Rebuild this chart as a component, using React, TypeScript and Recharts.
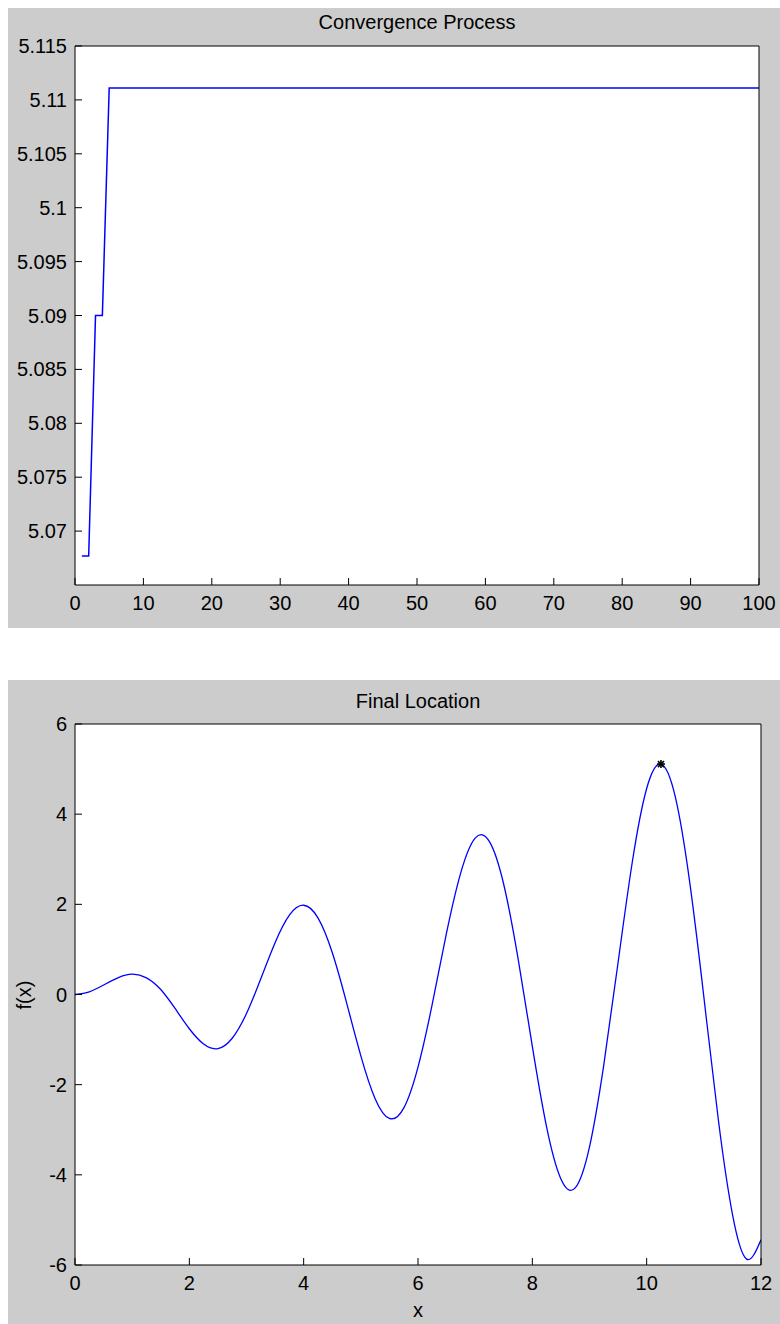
import {
  CartesianGrid,
  ComposedChart,
  Line,
  ReferenceDot,
  XAxis,
  YAxis,
} from "recharts";

// convergence: best value per iteration (only the points where it changes, plus the last one)
const iterations = [1, 2, 3, 4, 5, 100];
const bestValues = [5.0677, 5.0677, 5.09, 5.09, 5.1111, 5.1111];
const iterTicks = [0, 10, 20, 30, 40, 50, 60, 70, 80, 90, 100];
const valueTicks = [5.07, 5.075, 5.08, 5.085, 5.09, 5.095, 5.1, 5.105, 5.11, 5.115];

// final location: f(x) every 0.25
const xs = [
  0, 0.25, 0.5, 0.75, 1, 1.25, 1.5, 1.75, 2, 2.25, 2.5, 2.75, 3, 3.25, 3.5, 3.75, 4,
  4.25, 4.5, 4.75, 5, 5.25, 5.5, 5.75, 6, 6.25, 6.5, 6.75, 7, 7.25, 7.5, 7.75, 8,
  8.25, 8.5, 8.75, 9, 9.25, 9.5, 9.75, 10, 10.25, 10.5, 10.75, 11, 11.25, 11.5, 11.75, 12,
];
const fx = [
  0, 0.06, 0.21, 0.37, 0.45, 0.37, 0.11, -0.31, -0.76, -1.1, -1.2, -0.97, -0.42, 0.35, 1.15,
  1.76, 1.98, 1.7, 0.93, -0.18, -1.36, -2.31, -2.75, -2.52, -1.61, -0.21, 1.37, 2.71, 3.47,
  3.39, 2.44, 0.8, -1.15, -2.94, -4.09, -4.29, -3.38, -1.56, 0.71, 2.95, 4.57, 5.11, 4.39,
  2.52, -0.05, -2.74, -4.87, -5.87, -5.44,
];
const xTicks = [0, 2, 4, 6, 8, 10, 12];
const fxTicks = [-6, -4, -2, 0, 2, 4, 6];
const finalX = 10.25;
const finalY = 5.111;

const FONT = '"Liberation Sans", Arial, Helvetica, sans-serif';
const INK = "#000";
const GREY = "#cccccc";
const BLUE = "#0000ff";
const TICK = 7;

const convRows = iterations.map((iter, i) => ({ iter, value: bestValues[i] }));
const fxRows = xs.map((x, i) => ({ x, y: fx[i] }));

// labels outside, tick marks inside the box (matlab style)
function BottomTick(props: any) {
  const { x, y, payload } = props;
  return (
    <g>
      <line x1={x} y1={y} x2={x} y2={y - TICK} stroke={INK} />
      <text x={x} y={y + 25} textAnchor="middle" fontFamily={FONT} fontSize={20} fill={INK}>
        {String(payload.value)}
      </text>
    </g>
  );
}

function LeftTick(props: any) {
  const { x, y, payload } = props;
  return (
    <g>
      <line x1={x} y1={y} x2={x + TICK} y2={y} stroke={INK} />
      <text x={x - 8} y={y + 7} textAnchor="end" fontFamily={FONT} fontSize={20} fill={INK}>
        {String(payload.value)}
      </text>
    </g>
  );
}

function Star(props: any) {
  const { cx, cy } = props;
  return (
    <g stroke={INK} strokeWidth={1.6}>
      <line x1={cx - 4} y1={cy} x2={cx + 4} y2={cy} />
      <line x1={cx} y1={cy - 4} x2={cx} y2={cy + 4} />
      <line x1={cx - 3} y1={cy - 3} x2={cx + 3} y2={cy + 3} />
      <line x1={cx - 3} y1={cy + 3} x2={cx + 3} y2={cy - 3} />
    </g>
  );
}

const titleStyle = {
  position: "absolute" as const,
  left: 0,
  top: 0,
  pointerEvents: "none" as const,
};

export default function App() {
  return (
    <div style={{ position: "absolute", left: 8, top: 8, width: 772, height: 1316, fontFamily: FONT }}>
      <style>{`html,body{margin:0;overflow:hidden}`}</style>

      {/* top panel */}
      <div style={{ position: "absolute", left: 0, top: 0, width: 772, height: 620, background: GREY }}>
        <ComposedChart
          width={772}
          height={620}
          data={convRows}
          margin={{ top: 38, right: 21, bottom: 0, left: 0 }}
        >
          <CartesianGrid xAxisId="b" yAxisId="l" horizontal={false} vertical={false} fill="#fff" stroke="none" />
          <XAxis
            xAxisId="b"
            dataKey="iter"
            type="number"
            domain={[0, 100]}
            allowDataOverflow
            ticks={iterTicks}
            interval={0}
            height={43}
            tickSize={0}
            tickMargin={0}
            tickLine={false}
            axisLine={{ stroke: INK }}
            tick={<BottomTick />}
          />
          <XAxis
            xAxisId="t"
            dataKey="iter"
            orientation="top"
            mirror
            type="number"
            domain={[0, 100]}
            allowDataOverflow
            ticks={iterTicks}
            interval={0}
            tick={false}
            tickSize={TICK}
            tickLine={{ stroke: INK }}
            axisLine={{ stroke: INK }}
          />
          <YAxis
            yAxisId="l"
            type="number"
            domain={[5.065, 5.115]}
            allowDataOverflow
            ticks={valueTicks}
            interval={0}
            width={67}
            tickSize={0}
            tickMargin={0}
            tickLine={false}
            axisLine={{ stroke: INK }}
            tick={<LeftTick />}
          />
          <YAxis
            yAxisId="r"
            orientation="right"
            mirror
            type="number"
            domain={[5.065, 5.115]}
            allowDataOverflow
            ticks={valueTicks}
            interval={0}
            tick={false}
            tickSize={TICK}
            tickLine={{ stroke: INK }}
            axisLine={{ stroke: INK }}
          />
          <Line
            xAxisId="b"
            yAxisId="l"
            type="linear"
            dataKey="value"
            stroke={BLUE}
            strokeWidth={1.5}
            dot={false}
            isAnimationActive={false}
          />
        </ComposedChart>
        <svg width={772} height={40} style={titleStyle}>
          <text x={409} y={21} textAnchor="middle" fontFamily={FONT} fontSize={20} fill={INK}>
            Convergence Process
          </text>
        </svg>
      </div>

      {/* bottom panel */}
      <div style={{ position: "absolute", left: 0, top: 672, width: 772, height: 644, background: GREY }}>
        <ComposedChart
          width={772}
          height={644}
          data={fxRows}
          margin={{ top: 44, right: 19, bottom: 0, left: 0 }}
        >
          <CartesianGrid xAxisId="b" yAxisId="l" horizontal={false} vertical={false} fill="#fff" stroke="none" />
          <XAxis
            xAxisId="b"
            dataKey="x"
            type="number"
            domain={[0, 12]}
            allowDataOverflow
            ticks={xTicks}
            interval={0}
            height={59}
            tickSize={0}
            tickMargin={0}
            tickLine={false}
            axisLine={{ stroke: INK }}
            tick={<BottomTick />}
          />
          <XAxis
            xAxisId="t"
            dataKey="x"
            orientation="top"
            mirror
            type="number"
            domain={[0, 12]}
            allowDataOverflow
            ticks={xTicks}
            interval={0}
            tick={false}
            tickSize={TICK}
            tickLine={{ stroke: INK }}
            axisLine={{ stroke: INK }}
          />
          <YAxis
            yAxisId="l"
            type="number"
            domain={[-6, 6]}
            allowDataOverflow
            ticks={fxTicks}
            interval={0}
            width={67}
            tickSize={0}
            tickMargin={0}
            tickLine={false}
            axisLine={{ stroke: INK }}
            tick={<LeftTick />}
          />
          <YAxis
            yAxisId="r"
            orientation="right"
            mirror
            type="number"
            domain={[-6, 6]}
            allowDataOverflow
            ticks={fxTicks}
            interval={0}
            tick={false}
            tickSize={TICK}
            tickLine={{ stroke: INK }}
            axisLine={{ stroke: INK }}
          />
          <Line
            xAxisId="b"
            yAxisId="l"
            type="natural"
            dataKey="y"
            stroke={BLUE}
            strokeWidth={1.3}
            dot={false}
            isAnimationActive={false}
          />
          <ReferenceDot
            xAxisId="b"
            yAxisId="l"
            x={finalX}
            y={finalY}
            r={4}
            ifOverflow="visible"
            shape={<Star />}
          />
        </ComposedChart>
        <svg width={772} height={644} style={titleStyle}>
          <text x={410} y={28} textAnchor="middle" fontFamily={FONT} fontSize={20} fill={INK}>
            Final Location
          </text>
          <text
            transform="translate(23,315) rotate(-90)"
            textAnchor="middle"
            fontFamily={FONT}
            fontSize={20}
            fill={INK}
          >
            f(x)
          </text>
          <text x={410} y={637} textAnchor="middle" fontFamily={FONT} fontSize={20} fill={INK}>
            x
          </text>
        </svg>
      </div>
    </div>
  );
}
